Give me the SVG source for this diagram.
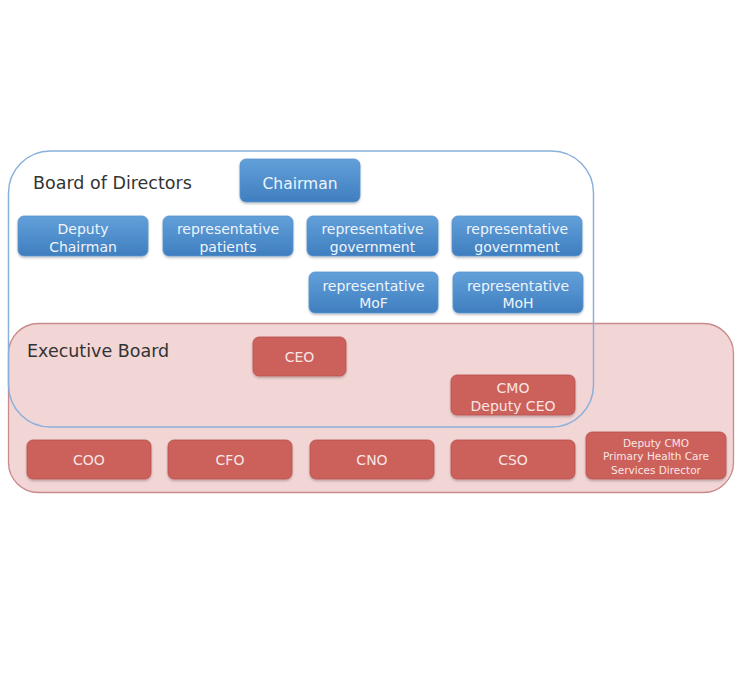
<svg xmlns="http://www.w3.org/2000/svg" width="740" height="688" viewBox="0 0 740 688">
<defs>
<linearGradient id="bg" x1="0" y1="0" x2="0" y2="1">
<stop offset="0" stop-color="#62a0da"/>
<stop offset="1" stop-color="#3f7ebf"/>
</linearGradient>
<filter id="sh" x="-10%" y="-20%" width="120%" height="150%">
<feDropShadow dx="0" dy="1.5" stdDeviation="1.2" flood-color="#000" flood-opacity="0.25"/>
</filter>
</defs>
<style>
.blue{fill:url(#bg);stroke:#5a92cc;stroke-width:0.8;filter:url(#sh)}
.red{fill:#cc605a;stroke:#b9524d;stroke-width:0.8;filter:url(#sh)}
.bt{font-family:"DejaVu Sans","Verdana",sans-serif;font-size:14px;fill:#eef4fb;text-anchor:middle}
.rt{font-family:"DejaVu Sans","Verdana",sans-serif;font-size:14px;fill:#f8e6e4;text-anchor:middle}
.st{font-family:"DejaVu Sans","Verdana",sans-serif;font-size:10.5px;fill:#f8e6e4;text-anchor:middle}
.title{font-family:"DejaVu Sans","Verdana",sans-serif;font-size:17.5px;fill:#333}
</style>
<rect width="740" height="688" fill="#fff"/>
<g id="executive-board">
<rect x="8.5" y="323.5" width="725" height="169" rx="30" fill="#f2d5d5" stroke="#c98a8a" stroke-width="1.3"/>
<text class="title" x="27" y="357">Executive Board</text>
</g>
<g id="board-of-directors">
<rect x="8.5" y="151" width="585" height="276" rx="42" fill="none" stroke="#8ab0dc" stroke-width="1.5"/>
<text class="title" x="33" y="189">Board of Directors</text>
</g>
<g id="connectors"></g>
<g id="chairman">
<rect class="blue" x="240" y="159" width="120" height="43" rx="6"/>
<text class="bt" x="300" y="188.5" style="font-size:15.5px">Chairman</text>
</g>
<g id="deputy-chairman">
<rect class="blue" x="18" y="216" width="130" height="40" rx="6"/>
<text class="bt" x="83" y="234">Deputy</text>
<text class="bt" x="83" y="251.5">Chairman</text>
</g>
<g id="rep-patients">
<rect class="blue" x="163" y="216" width="130" height="40" rx="6"/>
<text class="bt" x="228" y="234">representative</text>
<text class="bt" x="228" y="251.5">patients</text>
</g>
<g id="rep-government-1">
<rect class="blue" x="307" y="216" width="131" height="40" rx="6"/>
<text class="bt" x="372.5" y="234">representative</text>
<text class="bt" x="372.5" y="251.5">government</text>
</g>
<g id="rep-government-2">
<rect class="blue" x="452" y="216" width="130" height="40" rx="6"/>
<text class="bt" x="517" y="234">representative</text>
<text class="bt" x="517" y="251.5">government</text>
</g>
<g id="rep-mof">
<rect class="blue" x="309" y="272" width="129" height="41" rx="6"/>
<text class="bt" x="373.5" y="290.5">representative</text>
<text class="bt" x="373.5" y="308">MoF</text>
</g>
<g id="rep-moh">
<rect class="blue" x="453" y="272" width="130" height="41" rx="6"/>
<text class="bt" x="518" y="290.5">representative</text>
<text class="bt" x="518" y="308">MoH</text>
</g>
<g id="ceo">
<rect class="red" x="253" y="337" width="93" height="39" rx="6"/>
<text class="rt" x="299.5" y="362">CEO</text>
</g>
<g id="cmo">
<rect class="red" x="451" y="375" width="124" height="40" rx="6"/>
<text class="rt" x="513" y="393">CMO</text>
<text class="rt" x="513" y="411">Deputy CEO</text>
</g>
<g id="coo">
<rect class="red" x="27" y="440" width="124" height="39" rx="6"/>
<text class="rt" x="89" y="465">COO</text>
</g>
<g id="cfo">
<rect class="red" x="168" y="440" width="124" height="39" rx="6"/>
<text class="rt" x="230" y="465">CFO</text>
</g>
<g id="cno">
<rect class="red" x="310" y="440" width="124" height="39" rx="6"/>
<text class="rt" x="372" y="465">CNO</text>
</g>
<g id="cso">
<rect class="red" x="451" y="440" width="124" height="39" rx="6"/>
<text class="rt" x="513" y="465">CSO</text>
</g>
<g id="deputy-cmo">
<rect class="red" x="586" y="432" width="140" height="47" rx="6"/>
<text class="st" x="656" y="447">Deputy CMO</text>
<text class="st" x="656" y="460">Primary Health Care</text>
<text class="st" x="656" y="473.5">Services Director</text>
</g>
</svg>
